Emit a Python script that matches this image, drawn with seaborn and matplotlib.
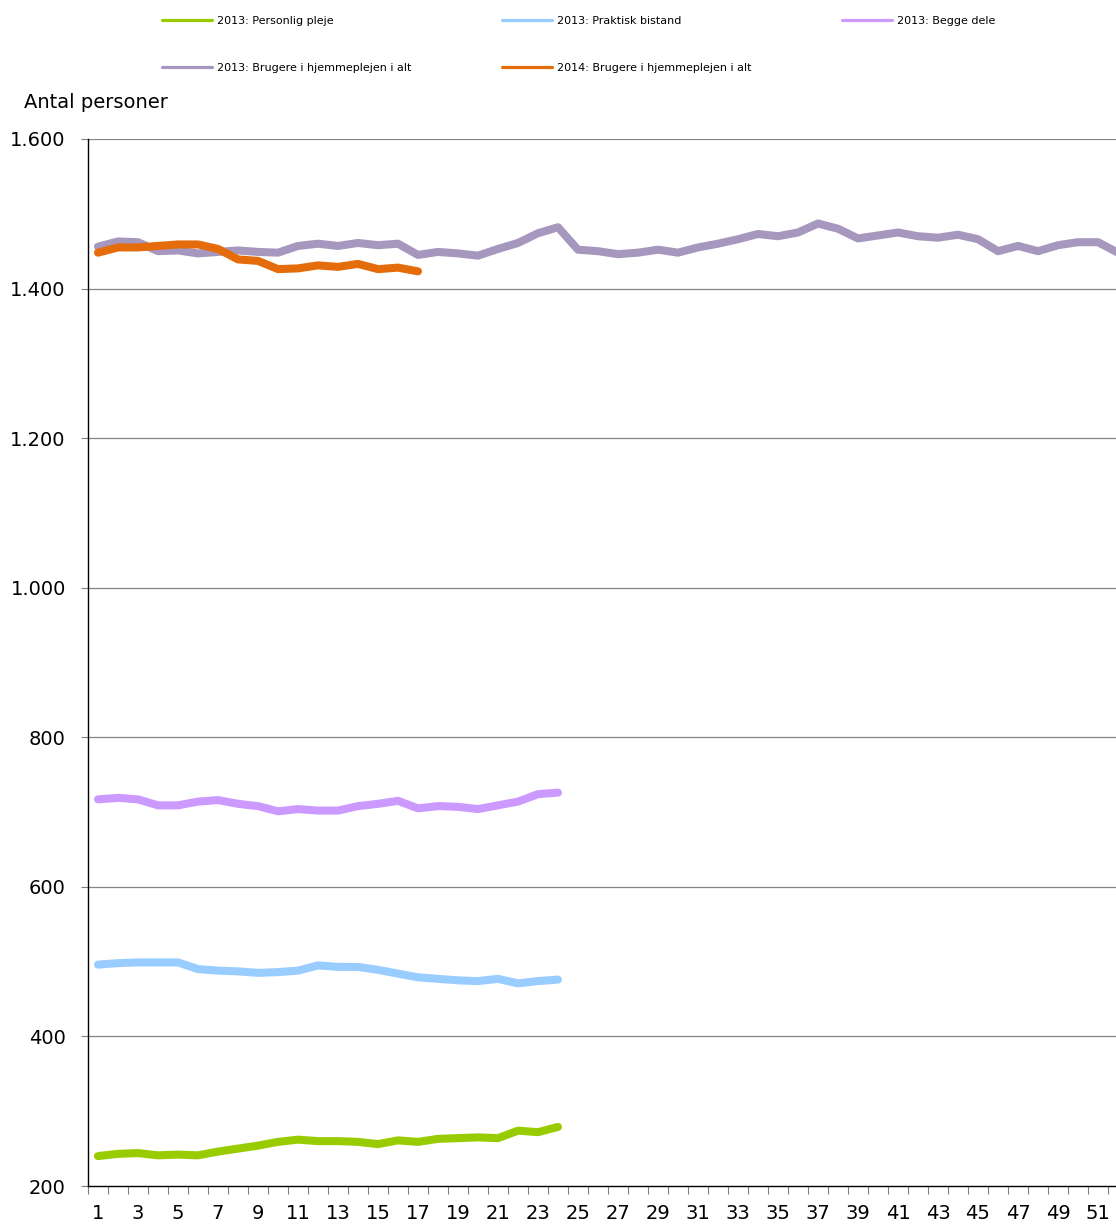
import numpy as np
import pandas as pd
import matplotlib
matplotlib.use("Agg")
import matplotlib.pyplot as plt
from matplotlib.lines import Line2D
from matplotlib.ticker import FixedLocator, FuncFormatter
import seaborn as sns

# weekly counts
weeks_all = list(range(1, 53))

personlig_pleje_2013 = [240, 243, 244, 241, 242, 241, 246, 250, 254, 259, 262, 260,
                        260, 259, 256, 261, 259, 263, 264, 265, 264, 274, 272, 279]
praktisk_bistand_2013 = [496, 498, 499, 499, 499, 490, 488, 487, 485, 486, 488, 495,
                         493, 493, 489, 484, 479, 477, 475, 474, 477, 471, 474, 476]
begge_dele_2013 = [717, 719, 717, 709, 709, 714, 716, 711, 708, 701, 704, 702,
                   702, 708, 711, 715, 705, 708, 707, 704, 709, 714, 724, 726]
brugere_2013 = [1456, 1463, 1462, 1450, 1451, 1447, 1449, 1451, 1449, 1448, 1457, 1460,
                1457, 1461, 1458, 1460, 1445, 1449, 1447, 1444, 1453, 1461, 1474, 1482,
                1452, 1450, 1446, 1448, 1452, 1448, 1455, 1460, 1466, 1473, 1470, 1475,
                1487, 1480, 1467, 1471, 1475, 1470, 1468, 1472, 1466, 1450, 1457, 1450,
                1458, 1462, 1462, 1448]
brugere_2014 = [1448, 1455, 1455, 1457, 1459, 1459, 1453, 1439, 1437, 1426, 1427, 1431,
                1429, 1433, 1426, 1428, 1423]

series_names = ["2013: Personlig pleje", "2013: Praktisk bistand", "2013: Begge dele",
                "2013: Brugere i hjemmeplejen i alt", "2014: Brugere i hjemmeplejen i alt"]
series_values = [personlig_pleje_2013, praktisk_bistand_2013, begge_dele_2013,
                 brugere_2013, brugere_2014]
series_colors = ["#99CC00", "#99CCFF", "#CC99FF", "#A597BD", "#E46C0A"]

y_ticks = [200, 400, 600, 800, 1000, 1200, 1400, 1600]

sns.set_style("white")
plt.rcParams["font.family"] = ["DejaVu Sans"]
plt.rcParams["text.color"] = "black"
plt.rcParams["xtick.color"] = "black"
plt.rcParams["ytick.color"] = "black"

fig = plt.figure(figsize=(11.16, 12.24), dpi=100)
# axis runs past the right edge of the picture, like the original
ax = fig.add_axes([88 / 1116, 38 / 1224, 1040 / 1116, 1047 / 1224])

for name, vals, col in zip(series_names, series_values, series_colors):
    df = pd.DataFrame({"uge": weeks_all[:len(vals)], "antal": vals})
    sns.lineplot(data=df, x="uge", y="antal", color=col, lw=5.8, ax=ax,
                 solid_capstyle="round", solid_joinstyle="round", zorder=3)

ax.set_xlim(0.5, 52.5)
ax.set_ylim(200, 1600)
ax.set_xlabel("")
ax.set_ylabel("")

# gridlines
ax.yaxis.set_major_locator(FixedLocator(y_ticks))
ax.yaxis.set_major_formatter(FuncFormatter(lambda v, p: f"{int(v):,}".replace(",", ".")))
for v in y_ticks[1:]:
    ax.axhline(v, color="#868686", lw=0.9, zorder=1)

ax.set_xticks(weeks_all[::2])
ax.set_xticklabels([str(w) for w in weeks_all[::2]])
ax.set_xticks([w + 0.5 for w in range(0, 53)], minor=True)

ax.tick_params(axis="x", which="major", length=0, pad=13, labelsize=14, labelcolor="black")
ax.tick_params(axis="x", which="minor", length=6, width=0.8, color="#808080",
               direction="out", bottom=True)
ax.tick_params(axis="y", which="major", length=5, width=0.8, color="#808080", direction="out",
               pad=11, labelsize=14, left=True, labelcolor="black")

for s in ["top", "right"]:
    ax.spines[s].set_visible(False)
ax.spines["left"].set_color("black")
ax.spines["bottom"].set_color("black")
ax.spines["left"].set_linewidth(1.0)
ax.spines["bottom"].set_linewidth(1.0)

fig.text(24 / 1116, 1 - 103 / 1224, "Antal personer", fontsize=14, va="center", ha="left",
         color="black")

# legend, filled column-wise in the same arrangement as the reference
order = [0, 3, 1, 4, 2]
handles = [Line2D([0], [0], color=series_colors[i], lw=2.3) for i in order]
labels = [series_names[i] for i in order]
fig.legend(handles, labels, ncol=3, loc="upper left", bbox_to_anchor=(152 / 1116, 1 - 6 / 1224),
           frameon=False, fontsize=8, handlelength=4.5, handletextpad=0.45,
           columnspacing=8.15, labelspacing=3.3, labelcolor="black")

fig.savefig("out.png", dpi=100)
